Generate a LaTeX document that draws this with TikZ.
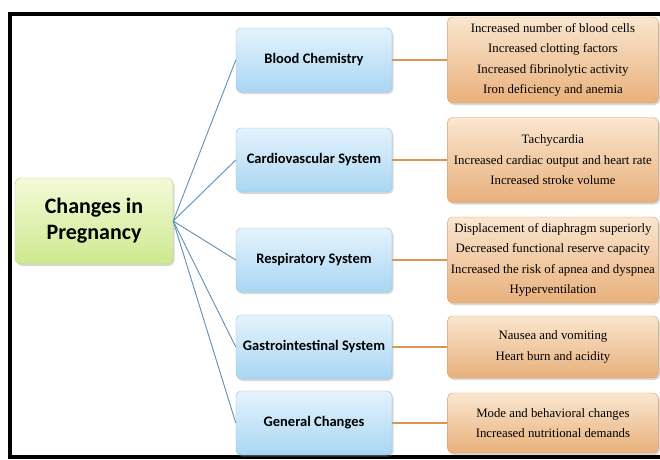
\documentclass[tikz,border=0pt]{standalone}
\usepackage{fontspec}
\setmainfont{Liberation Serif}
\newfontfamily\calibri{Carlito}
\usepackage{tikz}
\usetikzlibrary{positioning,shadows}
\definecolor{RootTop}{HTML}{F4FAD8}
\definecolor{RootBot}{HTML}{CDE98E}
\definecolor{RootEdge}{HTML}{B9D27A}
\definecolor{SysTop}{HTML}{E4F3FC}
\definecolor{SysBot}{HTML}{A9D6F3}
\definecolor{SysEdge}{HTML}{93C4E4}
\definecolor{FactTop}{HTML}{FAE6CF}
\definecolor{FactBot}{HTML}{E8B07B}
\definecolor{FactEdge}{HTML}{D8A26E}
\definecolor{SysLine}{HTML}{5E90B8}
\definecolor{FactLine}{HTML}{DA9558}

\begin{document}
\begin{tikzpicture}[
  x=1pt,y=-1pt,
  root/.style={rectangle,rounded corners=6pt,minimum width=158pt,minimum height=86pt,
               top color=RootTop,bottom color=RootBot,draw=RootEdge,align=center,
               font=\calibri\bfseries\fontsize{22}{26}\selectfont,
               drop shadow={shadow xshift=1.5pt,shadow yshift=-2pt,opacity=0.3}},
  sys/.style={rectangle,rounded corners=5pt,minimum width=156pt,minimum height=64pt,inner sep=2pt,
              top color=SysTop,bottom color=SysBot,draw=SysEdge,align=center,
              font=\calibri\bfseries\fontsize{14.5}{17}\selectfont,
              drop shadow={shadow xshift=1.5pt,shadow yshift=-2pt,opacity=0.3}},
  fact/.style={rectangle,rounded corners=5pt,minimum width=211pt,inner sep=2pt,
               top color=FactTop,bottom color=FactBot,draw=FactEdge,align=center,
               text=black,font=\fontsize{12.8}{20.5}\selectfont,
               drop shadow={shadow xshift=1.5pt,shadow yshift=-2pt,opacity=0.3}},
  link/.style={draw=SysLine,line width=0.9pt},
  factlink/.style={draw=FactLine,line width=1.1pt}
]
\useasboundingbox (0,0) rectangle (660,459);
\fill[white] (0,0) rectangle (660,459);
\draw[line width=3.5pt] (10,14) rectangle (666,457);

%% root and systems
\node[root] (preg)    at (94,221)  {Changes in\\Pregnancy};
\node[sys]  (blood)   at (314,60)  {Blood Chemistry};
\node[sys]  (cardio)  at (314,160) {Cardiovascular System};
\node[sys]  (resp)    at (314,260) {Respiratory System};
\node[sys]  (gastro)  at (314,347) {Gastrointestinal System};
\node[sys]  (general) at (314,423) {General Changes};

%% changes
\node[fact,right=55pt of blood,minimum height=86pt]   (blood-facts)
  {Increased number of blood cells\\Increased clotting factors\\Increased fibrinolytic activity\\Iron deficiency and anemia};
\node[fact,right=55pt of cardio,minimum height=85pt]  (cardio-facts)
  {Tachycardia\\Increased cardiac output and heart rate\\Increased stroke volume};
\node[fact,right=55pt of resp,minimum height=86pt]    (resp-facts)
  {Displacement of diaphragm superiorly\\Decreased functional reserve capacity\\Increased the risk of apnea and dyspnea\\Hyperventilation};
\node[fact,right=55pt of gastro,minimum height=62pt]  (gastro-facts)
  {Nausea and vomiting\\Heart burn and acidity};
\node[fact,right=55pt of general,minimum height=60pt] (general-facts)
  {Mode and behavioral changes\\Increased nutritional demands};

%% links
\draw[link] (preg.east) -- (blood.west);
\draw[link] (preg.east) -- (cardio.west);
\draw[link] (preg.east) -- (resp.west);
\draw[link] (preg.east) -- (gastro.west);
\draw[link] (preg.east) -- (general.west);
\draw[factlink] (blood.east) -- (blood-facts.west);
\draw[factlink] (cardio.east) -- (cardio-facts.west);
\draw[factlink] (resp.east) -- (resp-facts.west);
\draw[factlink] (gastro.east) -- (gastro-facts.west);
\draw[factlink] (general.east) -- (general-facts.west);

\end{tikzpicture}
\end{document}
